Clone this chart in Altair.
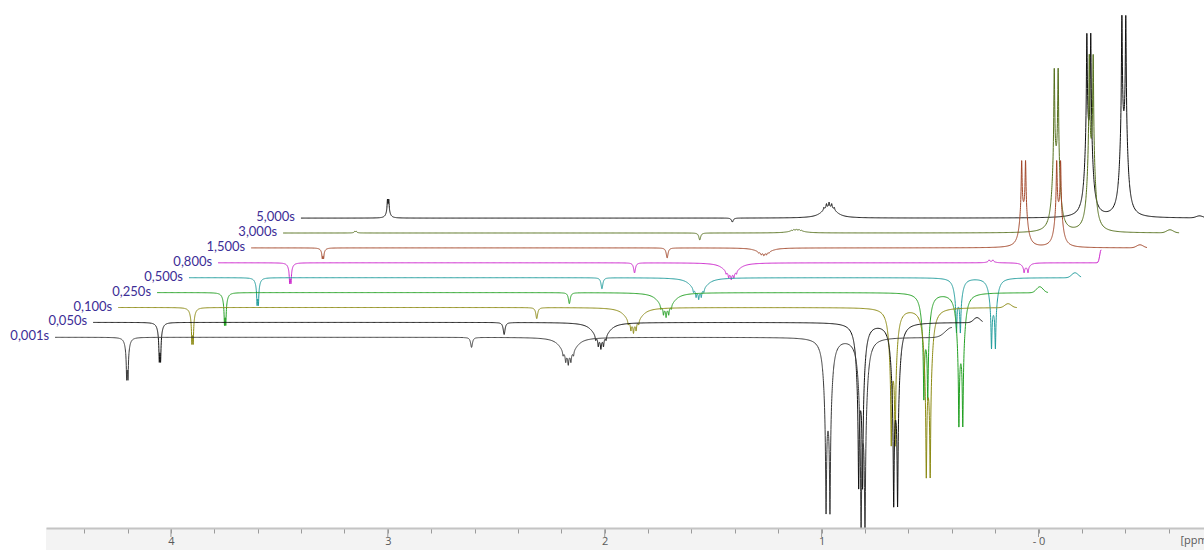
import altair as alt
import numpy as np
import pandas as pd

# ---- trace metadata (front to back) ----
labels = ["0,001s", "0,050s", "0,100s", "0,250s", "0,500s", "0,800s", "1,500s", "3,000s", "5,000s"]
colors = ["#3a3a3a", "#111111", "#8c8a12", "#22a022", "#1f9c9c", "#cc22cc", "#a3472a", "#55701d", "#111111"]
start_ppm = [4.534, 4.509, 4.544, 4.515, 4.518, 4.534, 4.532, 4.535, 4.603]
end_ppm = [0.399, 0.408, 0.400, 0.407, 0.405, 0.463, 0.402, 0.404, 0.36]

# ---- peak amplitudes per trace (intensity units) ----
amp_A = [-43, -40, -37, -33, -28, -21, -11, 2, 19]
amp_B = [-10, -12, -11, -11, -11, -10, -10, -7, -4]
amp_C = [-28, -27, -26, -25, -22, -17, -8, 4, 16]
amp_E = [-176, -166, -138, -107, -55, 3, 87, 164, 184]
amp_F = [-200, -184, -170, -134, -71, -10, 87, 178, 202]

# baseline roll at the right end of each trace
bump_ppm = [0.399, 0.434, 0.441, 0.445, 0.433, 0.463, 0.434, 0.446, 0.46]
bump_amp = [10, 5, 4, 6, 5, 13, 3, 3, 2]
bump_width = [0.03, 0.015, 0.015, 0.015, 0.015, 0.006, 0.015, 0.015, 0.015]

# ---- peak definitions: centre, line offsets, weights, narrow hwhm, broad hwhm, broad fraction ----
peak_centres = {"A": 4.201, "B": 2.614, "C": 2.168, "E": 0.9705, "F": 0.809}
peak_offsets = {"A": [-0.003, 0.003], "B": [0.0], "C": [-0.024, -0.012, 0.0, 0.012, 0.024],
                "E": [-0.009, 0.009], "F": [-0.009, 0.009]}
peak_weights = {"A": [1, 1], "B": [1], "C": [0.5, 0.85, 1, 0.85, 0.5], "E": [1, 1], "F": [1, 1]}
peak_narrow = {"A": 0.002, "B": 0.005, "C": 0.0025, "E": 0.0025, "F": 0.0025}
peak_broad = {"A": 0.008, "B": 0.005, "C": 0.03, "E": 0.012, "F": 0.012}
peak_bfrac = {"A": 0.3, "B": 0.0, "C": 0.4, "E": 0.4, "F": 0.4}
peak_amps = {"A": amp_A, "B": amp_B, "C": amp_C, "E": amp_E, "F": amp_F}

# layout of the stack
DX_PPM = 0.1503
DY = 14.9
X_DOMAIN = [-0.763, 4.576]
Y_DOMAIN = [-190.7, 337.3]
major_ticks = [4, 3, 2, 1, 0]
minor_ticks = [round(-0.6 + 0.2 * i, 1) for i in range(26)]


def lor(x, w):
    return w * w / (w * w + x * x)


def shape(name, x):
    c = peak_centres[name]
    f = peak_bfrac[name]
    s = np.zeros_like(x)
    for o, wt in zip(peak_offsets[name], peak_weights[name]):
        s += wt * ((1 - f) * lor(x - c - o, peak_narrow[name]) + f * lor(x - c - o, peak_broad[name]))
    return s


# sampling grid: coarse everywhere, fine near the peaks
grid = [np.arange(0.33, 4.62, 0.004)]
for name, c in peak_centres.items():
    half = 0.06 if name == "C" else 0.04
    grid.append(np.arange(c - half, c + half, 0.0005))
    grid.append(np.array([c + o for o in peak_offsets[name]]))
grid = np.unique(np.round(np.concatenate(grid), 5))

norm = {}
for name in peak_centres:
    fine = np.concatenate([grid, np.array([peak_centres[name] + o for o in peak_offsets[name]])])
    norm[name] = np.max(np.abs(shape(name, fine)))

rows = []
for k in reversed(range(len(labels))):
    x = grid[(grid >= end_ppm[k]) & (grid <= start_ppm[k])]
    x = np.unique(np.concatenate([[end_ppm[k]], x, [start_ppm[k]]]))
    v = np.zeros_like(x)
    for name in peak_centres:
        v += peak_amps[name][k] * shape(name, x) / norm[name]
    v += bump_amp[k] * np.exp(-0.5 * ((x - bump_ppm[k]) / bump_width[k]) ** 2)
    for xi, vi in zip(x, v):
        rows.append({"k": k, "label": labels[k], "ppm": round(float(xi), 5), "v": round(float(vi), 2)})
spec_df = pd.DataFrame(rows)

label_df = pd.DataFrame({"k": list(range(len(labels))), "label": labels, "start": start_ppm})

xscale = alt.Scale(domain=X_DOMAIN, reverse=True, nice=False, zero=False)
yscale = alt.Scale(domain=Y_DOMAIN, nice=False, zero=False)

label_expr = ("abs(datum.value - round(datum.value)) < 0.01 ? "
              "(abs(datum.value) < 0.01 ? '- 0' : format(datum.value, 'd')) : ''")

x_axis = alt.Axis(
    values=minor_ticks, labelExpr=label_expr, tickSize=5, tickColor="#9a9a9a",
    domainColor="#c4c4c4", domainWidth=2, grid=False, labelOverlap=False, labelFlush=False,
    labelFont="Open Sans", labelFontSize=11, labelColor="#5a5a5a", labelPadding=2,
    title="[ppm]", titleFont="Open Sans", titleFontSize=11, titleFontWeight="normal",
    titleColor="#5a5a5a", titleX=1134, titleY=6, titleAlign="left", titleBaseline="top",
    zindex=1,
)

band = alt.Chart(pd.DataFrame({"a": [0]})).mark_rect(color="#f3f3f3", clip=False).encode(
    x=alt.value(0), x2=alt.value(1158), y=alt.value(528), y2=alt.value(550)
)

spectra = alt.Chart(spec_df).transform_calculate(
    xp=f"datum.ppm - datum.k * {DX_PPM}",
    yp=f"datum.v + datum.k * {DY}",
).mark_line(strokeWidth=1, clip=True).encode(
    x=alt.X("xp:Q", scale=xscale, axis=x_axis),
    y=alt.Y("yp:Q", scale=yscale, axis=None),
    color=alt.Color("label:N", scale=alt.Scale(domain=labels, range=colors), legend=None),
    detail="k:N",
)

major = alt.Chart(pd.DataFrame({"t": major_ticks})).mark_rule(color="#9a9a9a", clip=False).encode(
    x=alt.X("t:Q", scale=xscale, axis=x_axis), y=alt.value(528), y2=alt.value(537)
)

texts = alt.Chart(label_df).transform_calculate(
    xp=f"datum.start - datum.k * {DX_PPM}",
    yp=f"datum.k * {DY}",
).mark_text(align="right", baseline="middle", dx=-6, dy=-1, font="Lato", fontSize=13,
            color="#3c2d96", clip=False).encode(
    x=alt.X("xp:Q", scale=xscale, axis=x_axis), y=alt.Y("yp:Q", scale=yscale, axis=None), text="label:N"
)

chart = alt.layer(band, spectra, major, texts).properties(
    width=1158, height=528,
    autosize=alt.AutoSizeParams(type="none"),
    padding={"left": 46, "top": 0, "right": 0, "bottom": 22},
    background="white",
).configure_view(strokeWidth=0, stroke="transparent")

chart.save("out.html", embed_options={"renderer": "svg", "actions": False})
